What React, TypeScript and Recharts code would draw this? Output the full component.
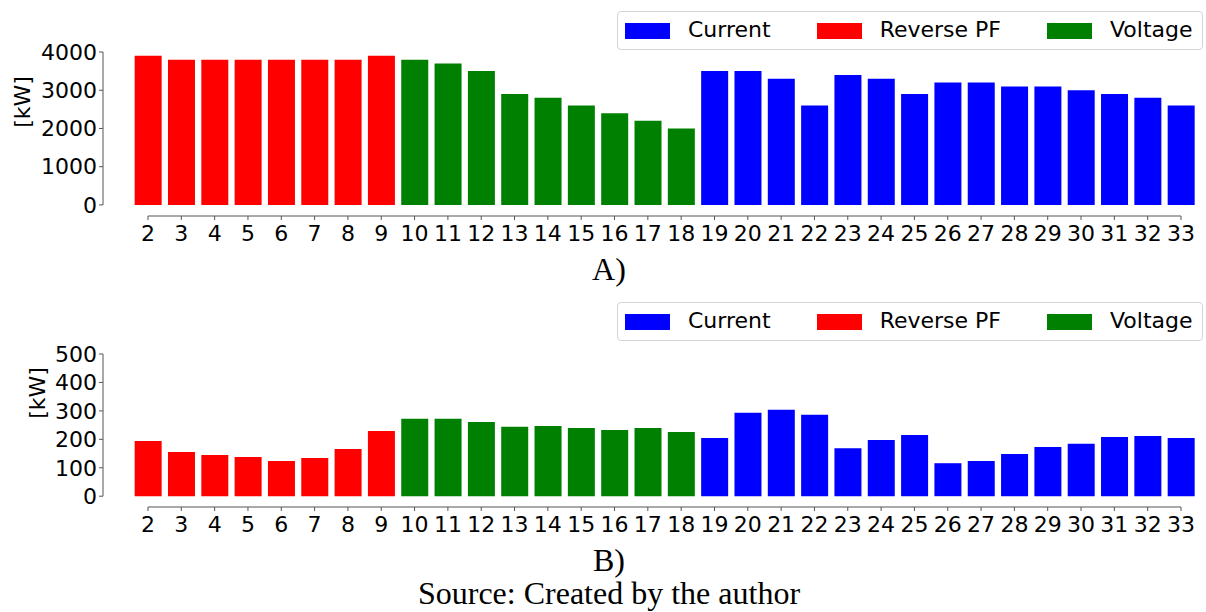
import { Bar, BarChart, Legend, XAxis, YAxis } from 'recharts'

// Bus numbers on the x axis
const NODES = [
  '2', '3', '4', '5', '6', '7', '8', '9', '10', '11', '12', '13', '14', '15', '16', '17',
  '18', '19', '20', '21', '22', '23', '24', '25', '26', '27', '28', '29', '30', '31', '32', '33',
]

// Which limit is binding at each bus
const LIMIT = [
  'reverse', 'reverse', 'reverse', 'reverse', 'reverse', 'reverse', 'reverse', 'reverse',
  'voltage', 'voltage', 'voltage', 'voltage', 'voltage', 'voltage', 'voltage', 'voltage', 'voltage',
  'current', 'current', 'current', 'current', 'current', 'current', 'current', 'current',
  'current', 'current', 'current', 'current', 'current', 'current', 'current',
]

// A) hosting capacity per bus [kW]
const POWER_A = [
  3900, 3800, 3800, 3800, 3800, 3800, 3800, 3900,
  3800, 3700, 3500, 2900, 2800, 2600, 2400, 2200, 2000,
  3500, 3500, 3300, 2600, 3400, 3300, 2900, 3200, 3200, 3100, 3100, 3000, 2900, 2800, 2600,
]

// B) hosting capacity per bus [kW]
const POWER_B = [
  194, 155, 145, 138, 124, 134, 166, 229,
  272, 272, 261, 244, 247, 240, 233, 240, 226,
  205, 293, 304, 286, 169, 198, 215, 116, 124, 148, 173, 184, 208, 212, 205,
]

const TICKS_A = [0, 1000, 2000, 3000, 4000]
const TICKS_B = [0, 100, 200, 300, 400, 500]

const SERIES = [
  { key: 'current', name: 'Current', color: '#0000ff' },
  { key: 'reverse', name: 'Reverse PF', color: '#ff0000' },
  { key: 'voltage', name: 'Voltage', color: '#008000' },
]

const FONT = 'DejaVu Sans'
const SPINE = '#555'

function rows(values: number[]) {
  return NODES.map((node, i) => ({
    node,
    current: LIMIT[i] === 'current' ? values[i] : null,
    reverse: LIMIT[i] === 'reverse' ? values[i] : null,
    voltage: LIMIT[i] === 'voltage' ? values[i] : null,
  }))
}

function LegendBox(props: any) {
  const payload: any[] = props.payload ?? []
  const items = SERIES.map((s) => payload.find((p) => p.dataKey === s.key) ?? { value: s.name, color: s.color })
  return (
    <div
      style={{
        display: 'flex',
        alignItems: 'center',
        boxSizing: 'border-box',
        width: 586,
        height: 39,
        paddingLeft: 7,
        border: '1px solid #d4d4d4',
        borderRadius: 4,
        background: '#fff',
        fontFamily: FONT,
        fontSize: 22,
        color: '#000',
      }}
    >
      {items.map((it, i) => (
        <div key={it.value} style={{ display: 'flex', alignItems: 'center', marginLeft: i === 0 ? 0 : 46 }}>
          <span style={{ width: 45, height: 16, background: it.color, marginRight: 18 }} />
          <span style={{ lineHeight: '22px', whiteSpace: 'nowrap', marginTop: -2 }}>{it.value}</span>
        </div>
      ))}
    </div>
  )
}

function UnitLabel({ x, y }: { x: number; y: number }) {
  return (
    <text
      x={x}
      y={y}
      transform={`rotate(-90 ${x} ${y})`}
      textAnchor="middle"
      dominantBaseline="central"
      fontFamily={FONT}
      fontSize={22}
      fill="#000"
    >
      [kW]
    </text>
  )
}

interface PanelProps {
  values: number[]
  ticks: number[]
  domainMin: number
  height: number
  top: number
  legendTop: number
  yLine: number // visible length of the y spine, from the top tick down to 0
  labelX: number
  labelY: number
}

function Panel({ values, ticks, domainMin, height, top, legendTop, yLine, labelX, labelY }: PanelProps) {
  const data = rows(values)
  const max = ticks[ticks.length - 1]
  return (
    <BarChart
      width={1206}
      height={height}
      data={data}
      margin={{ top, right: 0, bottom: 0, left: 0 }}
      barCategoryGap="10%"
      style={{ fontFamily: FONT }}
    >
      <XAxis
        dataKey="node"
        height={34}
        padding={{ left: 28.33, right: 8.33 }}
        interval={0}
        tickSize={4}
        tickMargin={5}
        tick={{ fontSize: 22, fill: '#000', fontFamily: FONT }}
        tickLine={{ stroke: SPINE }}
        axisLine={{ stroke: SPINE, strokeDasharray: '0 45 1033 300' }}
      />
      <YAxis
        type="number"
        width={103}
        domain={[domainMin, max]}
        allowDataOverflow
        ticks={ticks}
        interval={0}
        tickSize={4}
        tickMargin={2}
        tick={{ fontSize: 22, fill: '#000', fontFamily: FONT }}
        tickLine={{ stroke: SPINE }}
        axisLine={{ stroke: SPINE, strokeDasharray: `${yLine} 100` }}
        label={{ content: () => <UnitLabel x={labelX} y={labelY} /> }}
      />
      <Legend
        layout="horizontal"
        verticalAlign="middle"
        align="center"
        content={LegendBox}
        wrapperStyle={{ top: legendTop, left: 617, right: 'auto', bottom: 'auto', width: 586, height: 39 }}
      />
      {SERIES.map((s) => (
        <Bar key={s.key} dataKey={s.key} name={s.name} stackId="hc" fill={s.color} isAnimationActive={false} />
      ))}
    </BarChart>
  )
}

export default function App() {
  return (
    <div style={{ position: 'absolute', left: 0, top: 0, width: 1206, height: 612, background: '#fff' }}>
      <div style={{ position: 'absolute', left: 0, top: 0 }}>
        <Panel
          values={POWER_A}
          ticks={TICKS_A}
          domainMin={-290}
          height={250}
          top={52}
          legendTop={11}
          yLine={153}
          labelX={22.5}
          labelY={102}
        />
      </div>
      <div style={{ position: 'absolute', left: 0, top: 290 }}>
        <Panel
          values={POWER_B}
          ticks={TICKS_B}
          domainMin={-38}
          height={251}
          top={64}
          legendTop={12}
          yLine={142.2}
          labelX={37}
          labelY={103}
        />
      </div>
      <svg width={1206} height={612} style={{ position: 'absolute', left: 0, top: 0, pointerEvents: 'none' }}>
        <g fontFamily="Liberation Serif" fontSize={32} fill="#000" textAnchor="middle">
          <text x={609} y={280}>A)</text>
          <text x={609} y={571}>B)</text>
          <text x={609} y={604}>Source: Created by the author</text>
        </g>
      </svg>
    </div>
  )
}
